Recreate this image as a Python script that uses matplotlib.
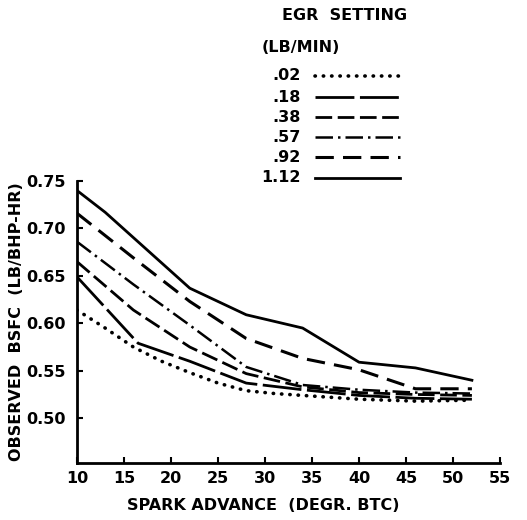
import matplotlib.pyplot as plt
from matplotlib.lines import Line2D

# EGR setting (lb/min) and the curves
egr_labels = [".02", ".18", ".38", ".57", ".92", "1.12"]

x_02 = [10, 13, 16, 19, 22, 25, 28, 31, 34, 40, 46, 52]
y_02 = [0.614, 0.595, 0.575, 0.560, 0.548, 0.537, 0.529, 0.526, 0.524, 0.520, 0.518, 0.519]

x_18 = [10, 16.5, 22, 28, 34, 40, 46, 52]
y_18 = [0.649, 0.579, 0.560, 0.537, 0.530, 0.524, 0.521, 0.520]

x_38 = [10, 16, 22, 28, 34, 40, 46, 52]
y_38 = [0.665, 0.614, 0.575, 0.547, 0.533, 0.527, 0.525, 0.524]

x_57 = [10, 16, 22, 28, 34, 40, 46, 52]
y_57 = [0.686, 0.641, 0.598, 0.554, 0.535, 0.530, 0.527, 0.526]

x_92 = [10, 16, 22, 28, 34, 40, 46, 52]
y_92 = [0.716, 0.669, 0.623, 0.584, 0.563, 0.551, 0.531, 0.531]

x_112 = [10, 13, 22, 28, 34, 40, 46, 52]
y_112 = [0.740, 0.717, 0.637, 0.609, 0.595, 0.559, 0.553, 0.540]

xticks = [10, 15, 20, 25, 30, 35, 40, 45, 50, 55]
yticks = [0.50, 0.55, 0.60, 0.65, 0.70, 0.75]

styles = [
    dict(linestyle=(0, (0.1, 2.2)), lw=2.6, dash_capstyle="round", solid_capstyle="round"),
    dict(linestyle=(0, (14, 2)), lw=2.0),
    dict(linestyle=(0, (6, 2)), lw=2.0),
    dict(linestyle=(0, (7, 2, 1, 2)), lw=1.8),
    dict(linestyle=(0, (6, 3)), lw=2.2),
    dict(linestyle="-", lw=2.0),
]

font = dict(family="DejaVu Sans", fontweight="bold")
fs = 11.5

fig = plt.figure(figsize=(5.27, 5.20), dpi=100)
ax = fig.add_axes([0.146, 0.110, 0.803, 0.542])

series = [(x_02, y_02), (x_18, y_18), (x_38, y_38), (x_57, y_57), (x_92, y_92), (x_112, y_112)]
for (xs, ys), st in zip(series, styles):
    ax.plot(xs, ys, color="black", **st)

ax.set_xlim(10, 55)
ax.set_ylim(0.453, 0.75)
ax.set_xticks(xticks)
ax.set_yticks(yticks)
ax.set_xticklabels([str(t) for t in xticks], **font, fontsize=fs)
ax.set_yticklabels(["%.2f" % t for t in yticks], **font, fontsize=fs)
ax.tick_params(direction="in", length=4, width=1.5)
ax.tick_params(axis="y", pad=8)
ax.tick_params(axis="x", pad=6)
for s in ["top", "right"]:
    ax.spines[s].set_visible(False)
for s in ["left", "bottom"]:
    ax.spines[s].set_linewidth(2)

ax.set_xlabel("SPARK ADVANCE  (DEGR. BTC)", **font, fontsize=fs)
ax.set_ylabel("OBSERVED  BSFC  (LB/BHP-HR)", **font, fontsize=fs)
ax.xaxis.set_label_coords(0.44, -0.125)
ax.yaxis.set_label_coords(-0.125, 0.5)

# legend block up top
W, H = 527.0, 520.0
fig.text(345 / W, 1 - 16 / H, "EGR  SETTING", ha="center", va="center", fontsize=fs, **font)
fig.text(262 / W, 1 - 48 / H, "(LB/MIN)", ha="left", va="center", fontsize=fs, **font)
leg_y = [76, 97, 117, 137, 157, 178]
for lab, yy, st in zip(egr_labels, leg_y, styles):
    fig.text(301 / W, 1 - yy / H, lab, ha="right", va="center", fontsize=fs, **font)
    fig.add_artist(Line2D([315 / W, 400 / W], [1 - yy / H, 1 - yy / H],
                          color="black", transform=fig.transFigure, **st))

fig.savefig("out.png", dpi=100)
